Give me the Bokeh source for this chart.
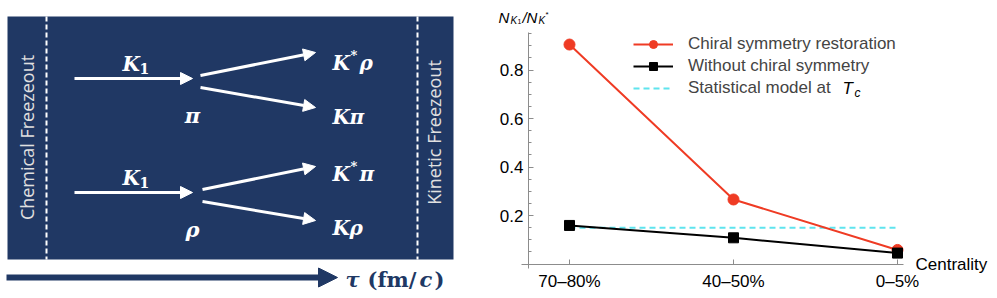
import numpy as np
from bokeh.plotting import figure
from bokeh.models import (Range1d, FixedTicker, Arrow, NormalHead, Legend,
                          LegendItem, Label, LinearAxis)
from bokeh.embed import file_html
from bokeh.resources import INLINE
from bokeh.core.properties import value

# ---------------- data (right panel) ----------------
categories = ["70–80%", "40–50%", "0–5%"]
chiral_restoration = [0.905, 0.266, 0.058]
without_chiral = [0.159, 0.108, 0.045]
statistical_model = [0.15, 0.15, 0.15]
y_ticks = [0.2, 0.4, 0.6, 0.8]
y_minor_ticks = [round(0.05 * i, 2) for i in range(1, 20) if i % 4]

NAVY = "#203864"
RED = "#ef3b24"
CYAN = "#5fe4ee"
AXIS = "#8c8c8c"
MATH_FONT = value("DejaVu Serif")
SANS = "Liberation Sans"

# One canvas; the default ranges are page pixels (y downwards)
W, H = 995, 297
p = figure(width=W, height=H, x_range=Range1d(0, W), y_range=Range1d(H, 0),
           x_axis_type=None, y_axis_type=None, toolbar_location=None,
           output_backend="svg", min_border=0, outline_line_color=None)

# ---------------- left diagram ----------------
p.quad(left=[7], right=[453], top=[16], bottom=[259], fill_color=NAVY, line_color=None)
p.segment(x0=[46, 417], y0=[16, 16], x1=[46, 417], y1=[259, 259],
          line_color="white", line_width=2, line_dash="5 3")


def arrow(x0, y0, x1, y1, color="white", lw=3, hs=12):
    p.add_layout(Arrow(end=NormalHead(size=hs, fill_color=color, line_color=color, line_width=1),
                       x_start=x0, y_start=y0, x_end=x1, y_end=y1,
                       line_color=color, line_width=lw))


for a in [(74, 78, 192, 78), (200, 75, 315, 52), (200, 87, 315, 107),
          (74, 192, 192, 192), (202, 189, 315, 166), (202, 201, 315, 220)]:
    arrow(*a)
arrow(6, 277, 337, 277, color=NAVY, lw=6, hs=19)


def dtext(x, y, t, size, style, color="white", align="left", baseline="alphabetic",
          font=MATH_FONT, angle=0):
    p.text(x=[x], y=[y], text=[t], text_font=font, text_font_size=f"{size}px",
           text_font_style=style, text_color=color, text_align=align,
           text_baseline=baseline, angle=angle)


for yb in (63, 177):
    dtext(122, yb, "K", 20, "bold italic")
    dtext(139, yb + 5, "1", 14, "bold")
dtext(192, 115, "π", 21, "bold italic", align="center")
dtext(192, 229, "ρ", 21, "bold italic", align="center")
dtext(332, 62, "K", 20, "bold italic"); dtext(350, 55, "*", 13, "bold"); dtext(359, 62, "ρ", 20, "bold italic")
dtext(332, 116, "K", 20, "bold italic"); dtext(349, 116, "π", 20, "bold italic")
dtext(332, 173, "K", 20, "bold italic"); dtext(350, 166, "*", 13, "bold"); dtext(359, 173, "π", 20, "bold italic")
dtext(332, 227, "K", 20, "bold italic"); dtext(349, 227, "ρ", 20, "bold italic")
dtext(26, 137, "Chemical Freezeout", 18, "normal", color="#e0e0e0", align="center",
      baseline="middle", font=value("Open Sans"), angle=np.pi / 2)
dtext(433, 132, "Kinetic Freezeout", 18, "normal", color="#e0e0e0", align="center",
      baseline="middle", font=value("Open Sans"), angle=np.pi / 2)
# time axis label, kept clear of the bottom edge
dtext(345, 279, "τ", 21, "bold italic", color=NAVY, baseline="middle")
dtext(367, 279, "(fm/", 21, "bold", color=NAVY, baseline="middle")
dtext(419, 279, "c", 21, "bold italic", color=NAVY, baseline="middle")
dtext(434, 279, ")", 21, "bold", color=NAVY, baseline="middle")

# ---------------- right plot (own scales) ----------------
xs = list(range(len(categories)))
CAT0_PX, CAT_STEP_PX = 569.0, 164.0     # pixel position of first category, spacing
Y0_PX, Y_UNIT_PX = 263.5, 242.5         # pixel position of ratio 0, pixels per unit


def X(px):
    return (px - CAT0_PX) / CAT_STEP_PX


def Y(py):
    return (Y0_PX - py) / Y_UNIT_PX


p.extra_x_ranges = {"cat": Range1d(X(0), X(W))}
p.extra_y_ranges = {"ratio": Range1d(Y(H), Y(0))}

xaxis = LinearAxis(x_range_name="cat", y_range_name="ratio", fixed_location=0,
                   bounds=(X(521), X(903)),
                   ticker=FixedTicker(ticks=xs, minor_ticks=[]),
                   major_label_overrides={i: c for i, c in enumerate(categories)},
                   major_label_standoff=8)
p.add_layout(xaxis, "below")
yaxis = LinearAxis(x_range_name="cat", y_range_name="ratio", fixed_location=X(528),
                   bounds=(Y(268), Y(32)),
                   ticker=FixedTicker(ticks=y_ticks, minor_ticks=y_minor_ticks),
                   major_label_standoff=5)
p.add_layout(yaxis, "left")
for ax in (xaxis, yaxis):
    ax.axis_line_color = AXIS
    ax.major_tick_line_color = AXIS
    ax.minor_tick_line_color = AXIS
    ax.major_tick_in = 5
    ax.major_tick_out = 0
    ax.minor_tick_in = 3
    ax.minor_tick_out = 0
    ax.major_label_text_font = SANS
    ax.major_label_text_font_size = "17px"
    ax.major_label_text_color = "black"

kw = dict(x_range_name="cat", y_range_name="ratio")
r_cyan = p.line(xs, statistical_model, line_color=CYAN, line_width=2, line_dash="6 4", **kw)
r_red_l = p.line(xs, chiral_restoration, line_color=RED, line_width=2, **kw)
r_red_p = p.scatter(xs, chiral_restoration, marker="circle", size=11, fill_color=RED,
                    line_color=RED, **kw)
r_blk_l = p.line(xs, without_chiral, line_color="black", line_width=2, **kw)
r_blk_p = p.scatter(xs, without_chiral, marker="square", size=10, fill_color="black",
                    line_color="black", **kw)

legend = Legend(items=[LegendItem(label="Chiral symmetry restoration", renderers=[r_red_l, r_red_p]),
                       LegendItem(label="Without chiral symmetry", renderers=[r_blk_l, r_blk_p]),
                       LegendItem(label="Statistical model at", renderers=[r_cyan])],
                location=(633, H - 34 - 64), glyph_width=40, glyph_height=20, label_height=20,
                spacing=2, padding=0, margin=0, border_line_color=None,
                background_fill_alpha=0, label_text_font=SANS, label_text_font_size="17px",
                label_standoff=15)
p.add_layout(legend)


def plabel(xp, yp, t, size, style="normal", align="left", baseline="alphabetic"):
    p.add_layout(Label(x=xp, y=yp, text=t, text_font=SANS, text_font_size=f"{size}px",
                       text_font_style=style, text_align=align, text_baseline=baseline,
                       text_color="black"))


# y-axis label N_{K1}/N_{K*}
plabel(498, 17, "N", 15, "italic")
plabel(510, 20, "K", 10, "italic")
plabel(517, 21, "1", 7)
plabel(522, 17, "/", 15, "italic")
plabel(526, 17, "N", 15, "italic")
plabel(538, 20, "K", 10, "italic")
plabel(545, 14, "*", 8)
# x-axis label
plabel(915, 264, "Centrality", 17, baseline="middle")
# T_c in legend
plabel(842, 88, "T", 17, "italic", baseline="middle")
plabel(854, 92, "c", 12, "italic", baseline="middle")

open("out.html", "w").write(file_html(p, INLINE))
